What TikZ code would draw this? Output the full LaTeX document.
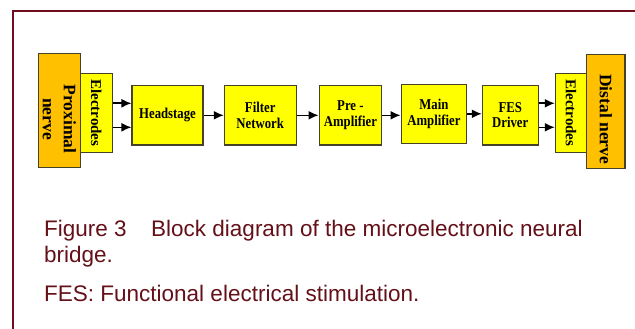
\documentclass[tikz,border=0pt]{standalone}
\usepackage{fontspec}
\setmainfont{Liberation Serif}
\newfontfamily\capfont{Liberation Sans}
\newfontfamily\blockfont[FakeStretch=0.85]{Liberation Serif}
\definecolor{framered}{RGB}{112,14,30}
\definecolor{captionred}{RGB}{100,16,24}
\definecolor{blockyellow}{RGB}{255,255,0}
\definecolor{nerveorange}{RGB}{255,192,0}
\definecolor{edgegray}{RGB}{70,66,40}
\usepackage{tikz}
\usetikzlibrary{shapes,arrows.meta,positioning,calc}

\tikzset{
  blk/.style={draw=edgegray, line width=1.1pt, fill=blockyellow, inner sep=0pt,
    minimum height=59.3pt, align=center, font=\blockfont\bfseries\fontsize{15}{15.6}\selectfont},
  electrode/.style={draw=edgegray, line width=1.1pt, fill=blockyellow, inner sep=0pt,
    rotate=-90, minimum width=79pt, font=\bfseries\fontsize{15}{16}\selectfont},
  nerve/.style={draw=edgegray, line width=1.1pt, fill=nerveorange, inner sep=0pt,
    rotate=-90, minimum width=114pt, align=center, font=\bfseries\fontsize{17.5}{21}\selectfont},
  sig/.style={line width=1.6pt, -{Latex[length=10pt,width=9pt]}},
  captxt/.style={anchor=base west, inner sep=0pt, text=captionred, font=\capfont\fontsize{22.5}{26.7}\selectfont}
}

\begin{document}
\begin{tikzpicture}[x=1pt,y=-1pt]
\useasboundingbox (0,0) rectangle (635,329);
% frame
\draw[framered, line width=2pt] (12.5,329) -- (12.5,11.5) -- (635,11.5);

% nerves and electrodes
\node[nerve, minimum height=42pt] (prox) at (59.3,110.9) {\hspace*{16pt}Proximal\\\hspace*{16pt}nerve};
\node[electrode, minimum height=32pt] (elin) at (96.3,112.8) {Electrodes};
\node[electrode, minimum height=31.4pt] (elout) at (571,112.8) {Electrodes};
\node[nerve, minimum height=38.3pt] (dist) at (605.8,111.2) {\hspace*{16pt}Distal nerve};

% signal chain
\node[blk, minimum width=71pt] (head) at (167.5,115.3) {Headstage};
\node[blk, minimum width=71.7pt] (filt) at (260.2,115.3) {Filter\\Network};
\node[blk, minimum width=62.7pt] (pre) at (350.4,115.3) {Pre -\\Amplifier};
\node[blk, minimum width=65.7pt] (main) at (433.9,113.8) {Main\\Amplifier};
\node[blk, minimum width=55.7pt] (fes) at (510.2,115.3) {FES\\Driver};

\foreach \dy in {12pt,-12pt}{
  \draw[sig] ([yshift=\dy]head.west -| elin.north) -- ([yshift=\dy]head.west);
  \draw[sig] ([yshift=\dy]fes.east) -- ([yshift=\dy]fes.east -| elout.south);
}
\draw[sig] (head.east) -- (filt.west);
\draw[sig] (filt.east) -- (pre.west);
\draw[sig] (pre.east) -- (pre.east -| main.west);
\draw[sig] (main.east) -- (main.east -| fes.west);

% caption
\node[captxt] (figcap) at (44,236) {Figure 3\hspace{24.5pt}Block diagram of the microelectronic neural};
\node[captxt] (figcap2) at (44,262.7) {bridge.};
\node[captxt] (fesnote) at (44,301.7) {FES: Functional electrical stimulation.};
\end{tikzpicture}
\end{document}
